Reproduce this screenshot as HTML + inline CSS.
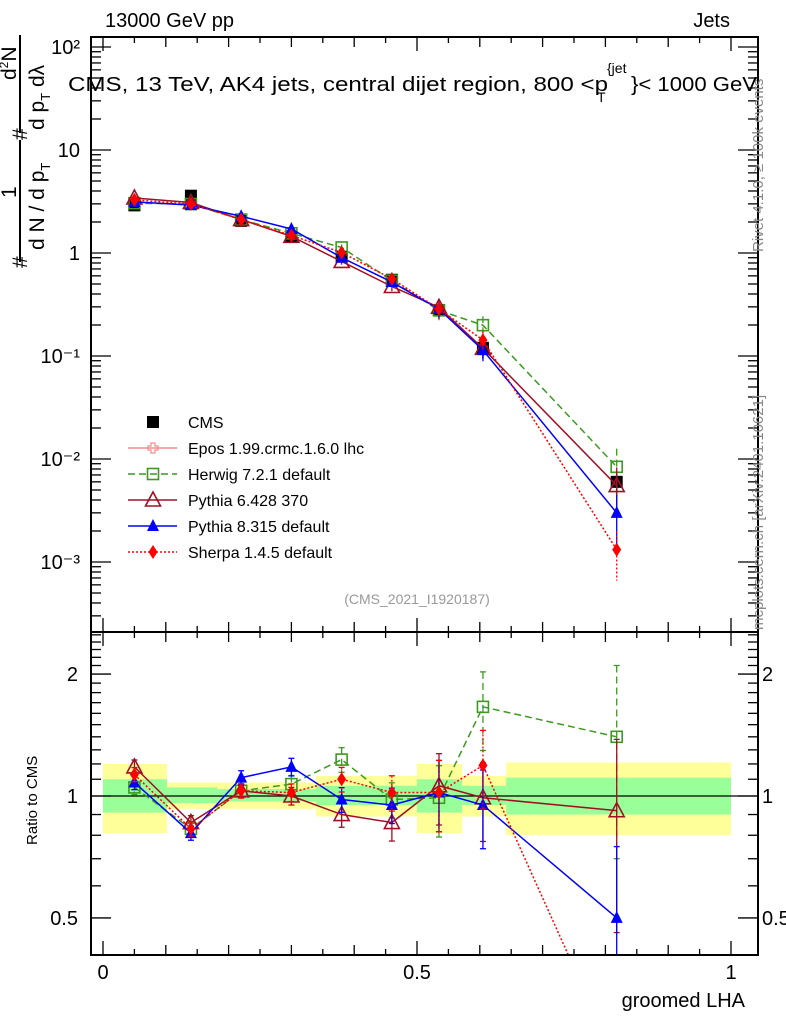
<!DOCTYPE html>
<html><head><meta charset="utf-8"><style>
html,body{margin:0;padding:0;background:#fff;width:786px;height:1024px;overflow:hidden;}
svg{display:block;font-family:"Liberation Sans",sans-serif;}
</style></head><body>
<svg id="chart" width="786" height="1024" viewBox="0 0 786 1024" xmlns="http://www.w3.org/2000/svg">
<g id="bands"></g>
<g id="marks"></g>
<g id="axes"></g>
<text x="105" y="27" font-size="20">13000 GeV pp</text>
<text x="730" y="27" font-size="20" text-anchor="end">Jets</text>
<text x="68" y="91" font-size="20" textLength="540" lengthAdjust="spacingAndGlyphs">CMS, 13 TeV, AK4 jets, central dijet region, 800 &lt;p</text>
<text x="597" y="102" font-size="14">T</text>
<text x="607" y="73" font-size="14">{jet</text>
<text x="631" y="91" font-size="20" textLength="126" lengthAdjust="spacingAndGlyphs">}&lt; 1000 GeV</text>
<text transform="translate(763,252) rotate(-90)" font-size="15" fill="#888">Rivet 4.1.0, ≥ 100k events</text>
<text transform="translate(763,630) rotate(-90)" font-size="15" fill="#888">mcplots.cern.ch [arXiv:2401.10621]</text>
<text x="417" y="604" font-size="14" fill="#999" text-anchor="middle">(CMS_2021_I1920187)</text>
<g transform="rotate(-90)" font-size="21">
<text x="-268" y="27">#</text>
<text x="-198" y="16">1</text>
<line x1="-262" y1="20" x2="-140" y2="20" stroke="#000" stroke-width="2"/>
<text x="-250" y="44">d N / d p<tspan font-size="13" dy="6">T</tspan></text>
<text x="-140" y="27">#</text>
<text x="-80" y="16">d<tspan font-size="12" dy="-8">2</tspan><tspan dy="8">N</tspan></text>
<line x1="-133" y1="20" x2="-35" y2="20" stroke="#000" stroke-width="2"/>
<text x="-130" y="44">d p<tspan font-size="13" dy="6">T</tspan><tspan dy="-6"> dλ</tspan></text>
</g>
<text transform="translate(37,845) rotate(-90)" font-size="15">Ratio to CMS</text>
<text x="745" y="1007" font-size="20" text-anchor="end">groomed LHA</text>
<g id="legend"></g>
</svg>
<script>
const xCenters=[0.05,0.14,0.22,0.30,0.38,0.46,0.535,0.605,0.818];
const cmsValues=[2.9,3.6,2.05,1.45,0.92,0.55,0.28,0.12,0.006];
const cmsRelErr=[0.05,0.05,0.05,0.05,0.06,0.08,0.15,0.2,0.25];
const herwigRatio=[1.05,0.83,1.03,1.07,1.23,0.98,0.99,1.66,1.40];
const pythia6Ratio=[1.18,0.86,1.03,1.0,0.90,0.86,1.06,0.99,0.92];
const pythia8Ratio=[1.08,0.81,1.11,1.18,0.98,0.95,1.02,0.95,0.50];
const sherpaRatio=[1.13,0.83,1.03,1.02,1.10,1.02,1.02,1.19,0.22];
const modelRelErr=[0.04,0.04,0.04,0.05,0.07,0.1,0.2,0.22,0.5];
const binEdges=[0,0.102,0.182,0.339,0.5,0.572,0.642,1.0];
const yellowHi=[1.2,1.08,1.08,1.12,1.2,1.12,1.21];
const yellowLo=[0.81,0.93,0.93,0.89,0.81,0.89,0.80];
const greenHi=[1.10,1.05,1.04,1.06,1.10,1.06,1.11];
const greenLo=[0.91,0.96,0.97,0.95,0.91,0.95,0.90];
const xTicks=[0,0.5,1];
const mainTicks=[100,10,1,0.1,0.01,0.001];
const mainTickLabels=["10²","10","1","10⁻¹","10⁻²","10⁻³"];
const ratioTicks=[2,1,0.5];
const ratioTickLabels=["2","1","0.5"];

const NS="http://www.w3.org/2000/svg";
const L=91,R=758,T=37,MB=632,RB=955;
const X=v=>103+v*628;
const Ym=v=>253-103*Math.log10(v);
const Yr=v=>796-405*Math.log10(v);
function el(tag,attrs,parent){const e=document.createElementNS(NS,tag);for(const k in attrs)e.setAttribute(k,attrs[k]);parent.appendChild(e);return e;}
const bands=document.getElementById('bands'),marks=document.getElementById('marks'),axes=document.getElementById('axes'),legend=document.getElementById('legend');
const clipM=el('clipPath',{id:'cm'},marks);el('rect',{x:L,y:T,width:R-L,height:MB-T},clipM);
const clipR=el('clipPath',{id:'cr'},marks);el('rect',{x:L,y:MB,width:R-L,height:RB-MB},clipR);
binEdges.slice(0,-1).forEach((e0,i)=>{
 const x0=X(e0),x1=X(binEdges[i+1]);
 const y=el('rect',{x:x0,y:Yr(yellowHi[i]),width:x1-x0,height:Yr(yellowLo[i])-Yr(yellowHi[i]),fill:'#ffff99'},bands);
 
 
 const g=el('rect',{x:x0,y:Yr(greenHi[i]),width:x1-x0,height:Yr(greenLo[i])-Yr(greenHi[i]),fill:'#99ff99'},bands);
 
 
});
el('line',{x1:L,y1:Yr(1),x2:R,y2:Yr(1),stroke:'#000','stroke-width':1.2},bands);
function marker(kind,color,x,y,parent){
 let m;
 if(kind==='sqfill')m=el('rect',{x:x-6,y:y-6,width:12,height:12,fill:color},parent);
 else if(kind==='sqopen')m=el('rect',{x:x-5.5,y:y-5.5,width:11,height:11,fill:'none',stroke:color,'stroke-width':1.6},parent);
 else if(kind==='triopen')m=el('path',{d:`M${x},${y-8}L${x+7.5},${y+6}L${x-7.5},${y+6}Z`,fill:'none',stroke:color,'stroke-width':1.6},parent);
 else if(kind==='trifill')m=el('path',{d:`M${x},${y-7}L${x+6},${y+5}L${x-6},${y+5}Z`,fill:color},parent);
 else if(kind==='diamond')m=el('path',{d:`M${x},${y-7}L${x+4.5},${y}L${x},${y+7}L${x-4.5},${y}Z`,fill:color},parent);
 else if(kind==='cross')m=el('path',{d:`M${x-2},${y-5}h4v3h3v4h-3v3h-4v-3h-3v-4h3z`,fill:'none',stroke:color,'stroke-width':1.2},parent);
 return m;
}
const series=[
 {name:'herwig',ratio:herwigRatio,color:'#3c9a1e',dash:'7,4',kind:'sqopen'},
 {name:'pythia6',ratio:pythia6Ratio,color:'#a01024',dash:'',kind:'triopen'},
 {name:'pythia8',ratio:pythia8Ratio,color:'#0000ff',dash:'',kind:'trifill'},
 {name:'sherpa',ratio:sherpaRatio,color:'#ff0000',dash:'2,2',kind:'diamond'}
];
const gc=el('g',{'clip-path':'url(#cm)'},marks);
xCenters.forEach((xv,i)=>{
 const y=Ym(cmsValues[i]);
 el('line',{x1:X(xv),x2:X(xv),y1:Ym(cmsValues[i]*(1+cmsRelErr[i])),y2:Ym(cmsValues[i]*(1-cmsRelErr[i])),stroke:'#000','stroke-width':1.5},gc);
 const m=marker('sqfill','#000',X(xv),y,gc);
 
 
});
series.forEach(s=>{
 const gm=el('g',{'clip-path':'url(#cm)'},marks);
 const gr=el('g',{'clip-path':'url(#cr)'},marks);
 const mv=s.ratio.map((r,i)=>r*cmsValues[i]);
 const pm=el('polyline',{points:xCenters.map((x,i)=>X(x)+','+Ym(mv[i])).join(' '),fill:'none',stroke:s.color,'stroke-width':1.5,'stroke-dasharray':s.dash},gm);
 
 
 const pr=el('polyline',{points:xCenters.map((x,i)=>X(x)+','+Yr(s.ratio[i])).join(' '),fill:'none',stroke:s.color,'stroke-width':1.5,'stroke-dasharray':s.dash},gr);
 
 
 xCenters.forEach((xv,i)=>{
  const e=modelRelErr[i];
  el('line',{x1:X(xv),x2:X(xv),y1:Ym(mv[i]*(1+e)),y2:Ym(Math.max(mv[i]*(1-e),1e-6)),stroke:s.color,'stroke-width':1.3,'stroke-dasharray':s.dash},gm);
  el('line',{x1:X(xv),x2:X(xv),y1:Yr(s.ratio[i]*(1+e)),y2:Yr(Math.max(s.ratio[i]*(1-e),0.01)),stroke:s.color,'stroke-width':1.3,'stroke-dasharray':s.dash},gr);
  [s.ratio[i]*(1+e),s.ratio[i]*(1-e)].forEach(v=>el('line',{x1:X(xv)-3,x2:X(xv)+3,y1:Yr(v),y2:Yr(v),stroke:s.color,'stroke-width':1.3},gr));
  const a=marker(s.kind,s.color,X(xv),Ym(mv[i]),gm);
  
  
  const b=marker(s.kind,s.color,X(xv),Yr(s.ratio[i]),gr);
  
  
 });
});
el('rect',{x:L,y:T,width:R-L,height:MB-T,fill:'none',stroke:'#000','stroke-width':2},axes);
el('rect',{x:L,y:MB,width:R-L,height:RB-MB,fill:'none',stroke:'#000','stroke-width':2},axes);
for(let k=0;k<=20;k++){const v=k*0.05;const big=k%2===0;const len=big?(k%10===0?14:10):6;
 [T,MB].forEach(y0=>el('line',{x1:X(v),x2:X(v),y1:y0,y2:y0+len,stroke:'#000','stroke-width':1.3},axes));
 [MB,RB].forEach(y0=>el('line',{x1:X(v),x2:X(v),y1:y0,y2:y0-len,stroke:'#000','stroke-width':1.3},axes));}
xTicks.forEach(v=>{const t=el('text',{x:X(v),y:979,'font-size':20,'text-anchor':'middle'},axes);t.textContent=String(v);
 
 });
for(let d=-4;d<=2;d++)for(let m=1;m<10;m++){const v=m*Math.pow(10,d);const y=Ym(v);if(y<T||y>MB)continue;const len=m===1?20:10;
 el('line',{x1:L,x2:L+len,y1:y,y2:y,stroke:'#000','stroke-width':1.3},axes);el('line',{x1:R,x2:R-len,y1:y,y2:y,stroke:'#000','stroke-width':1.3},axes);}
mainTicks.forEach((v,i)=>{const t=el('text',{x:80,y:Ym(v)+7,'font-size':20,'text-anchor':'end'},axes);t.textContent=mainTickLabels[i];
 
 });
[0.5,0.6,0.7,0.8,0.9,1,1.1,1.2,1.3,1.4,1.5,1.6,1.7,1.8,1.9,2,2.1,2.2,2.3,2.4,2.5].forEach(v=>{const y=Yr(v);if(y<MB||y>RB)return;const big=[0.5,1,2].includes(v);const len=big?20:10;
 el('line',{x1:L,x2:L+len,y1:y,y2:y,stroke:'#000','stroke-width':1.3},axes);el('line',{x1:R,x2:R-len,y1:y,y2:y,stroke:'#000','stroke-width':1.3},axes);});
ratioTicks.forEach((v,i)=>{
 const t=el('text',{x:78,y:Yr(v)+7,'font-size':20,'text-anchor':'end'},axes);t.textContent=ratioTickLabels[i];
 
 
 const t2=el('text',{x:762,y:Yr(v)+7,'font-size':20},axes);t2.textContent=ratioTickLabels[i];
 
 });
const legNames=['CMS','Epos 1.99.crmc.1.6.0 lhc','Herwig 7.2.1 default','Pythia 6.428 370','Pythia 8.315 default','Sherpa 1.4.5 default'];
const legColors=['#000','#f58a8a','#3c9a1e','#a01024','#0000ff','#ff0000'];
const legKinds=['sqfill','cross','sqopen','triopen','trifill','diamond'];
const legDash=['','','7,4','','','2,2'];
legNames.forEach((n,i)=>{const y=422+26*i;const g=el('g',{},legend);
 
 
 if(i>0)el('line',{x1:128,x2:177,y1:y,y2:y,stroke:legColors[i],'stroke-width':1.5,'stroke-dasharray':legDash[i]},g);
 marker(legKinds[i],legColors[i],153,y,g);
 const t=el('text',{x:188,y:y+6,'font-size':16},g);t.textContent=n;});
</script>
</body></html>
